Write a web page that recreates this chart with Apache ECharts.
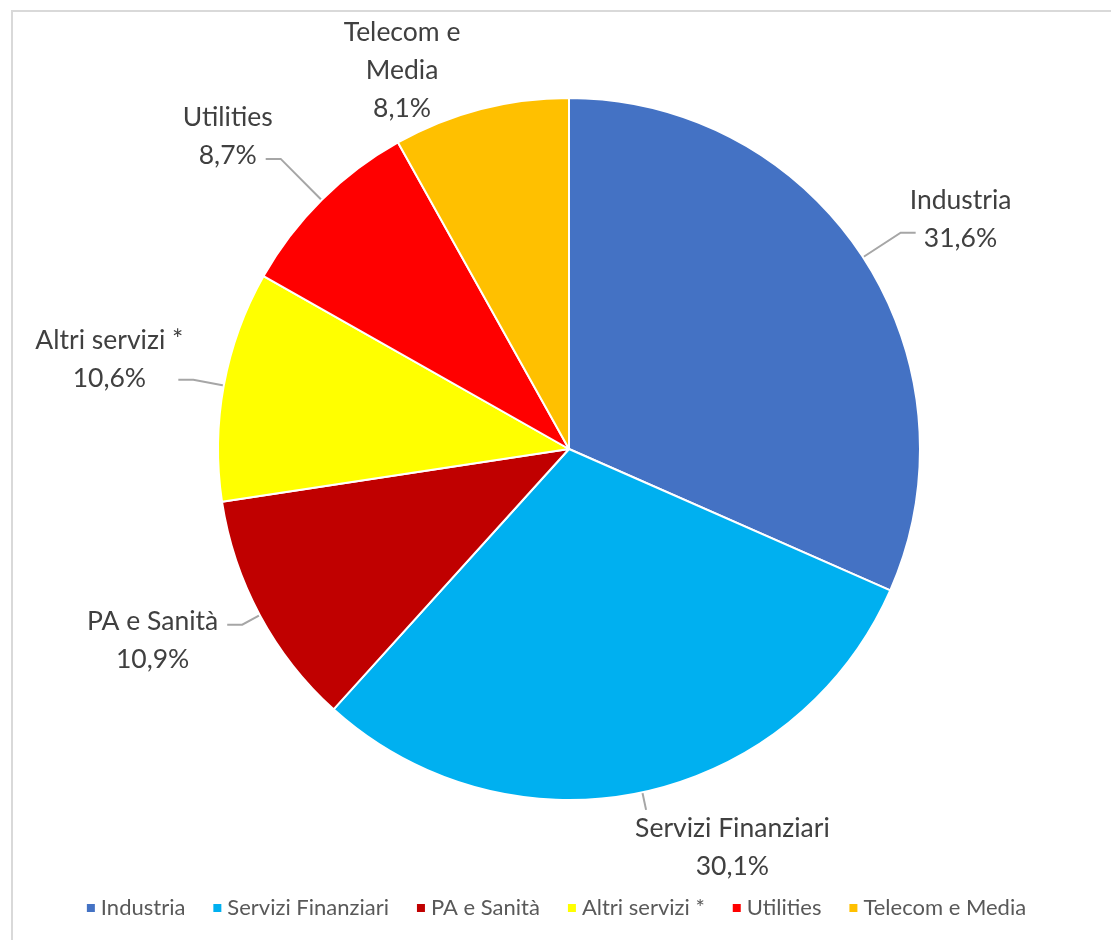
<!DOCTYPE html>
<html>
<head>
<meta charset="utf-8">
<script src="https://cdn.jsdelivr.net/npm/echarts@6/dist/echarts.min.js"></script>
<style>
  html, body { margin: 0; padding: 0; background: #fff; }
  #frame { position: absolute; left: 11px; top: 10px; width: 1110px; height: 940px; border-left: 2px solid #d9d9d9; border-top: 2px solid #d9d9d9; }
  #main { position: absolute; left: 0; top: 0; width: 1111px; height: 940px; }
</style>
</head>
<body>
<div id="frame"></div>
<div id="main"></div>
<script>
const categories = ["Industria", "Servizi Finanziari", "PA e Sanità", "Altri servizi *", "Utilities", "Telecom e Media"];
const labelNames = ["Industria", "Servizi Finanziari", "PA e Sanità", "Altri servizi *", "Utilities", "Telecom e\nMedia"];
const values = [31.6, 30.1, 10.9, 10.6, 8.7, 8.1];
const colors = ["#4472c4", "#00b0f0", "#c00000", "#ffff00", "#ff0000", "#ffc000"];

// per-slice leader line and label nudges (padding shifts the text off the line end)
const labelTweaks = [
  { length: 45, length2: 15, dist: -6, padding: [0, 0, 26, 0] },
  { length: 18, length2: 0, dist: -11, padding: [76, 0, 0, 0] },
  { length: 20, length2: 15, dist: 5, padding: [32, 4, 0, 0] },
  { length: 31, length2: 15, dist: -5, padding: [0, 0, 40, 0] },
  { length: 58, length2: 15, dist: -7, padding: [0, 0, 44, 0] },
  { length: 5, length2: 0, dist: 5, padding: [0, 14, 68, 0], hideLine: true }
];

const chartDom = document.getElementById("main");
const myChart = echarts.init(chartDom);

const fmt = (v) => v.toFixed(1).replace(".", ",") + "%";

const options = {
  color: colors,
  textStyle: { fontFamily: "Lato, 'Open Sans', sans-serif" },
  legend: {
    bottom: 16,
    left: "center",
    icon: "rect",
    itemWidth: 10,
    itemHeight: 10,
    itemGap: 26,
    textStyle: { fontSize: 22, color: "#595959" },
    data: categories
  },
  series: [
    {
      type: "pie",
      center: [569, 449],
      radius: 351,
      startAngle: 90,
      clockwise: true,
      avoidLabelOverlap: false,
      itemStyle: { borderColor: "#fff", borderWidth: 2 },
      label: {
        show: true,
        position: "outside",
        color: "#404040",
        rich: {
          n: { fontSize: 26.5, lineHeight: 38, align: "center", color: "#404040" }
        }
      },
      labelLine: {
        show: true,
        lineStyle: { color: "#a6a6a6", width: 2 }
      },
      emphasis: { scale: false },
      data: categories.map((c, i) => {
        const t = labelTweaks[i];
        const lines = (labelNames[i] + "\n" + fmt(values[i])).split("\n");
        return {
          name: c,
          value: values[i],
          label: {
            padding: t.padding,
            distanceToLabelLine: t.dist,
            formatter: lines.map((l) => "{n|" + l + "}").join("\n")
          },
          labelLine: { show: !t.hideLine, length: t.length, length2: t.length2 }
        };
      })
    }
  ]
};
options && myChart.setOption(options);
</script>
</body>
</html>
